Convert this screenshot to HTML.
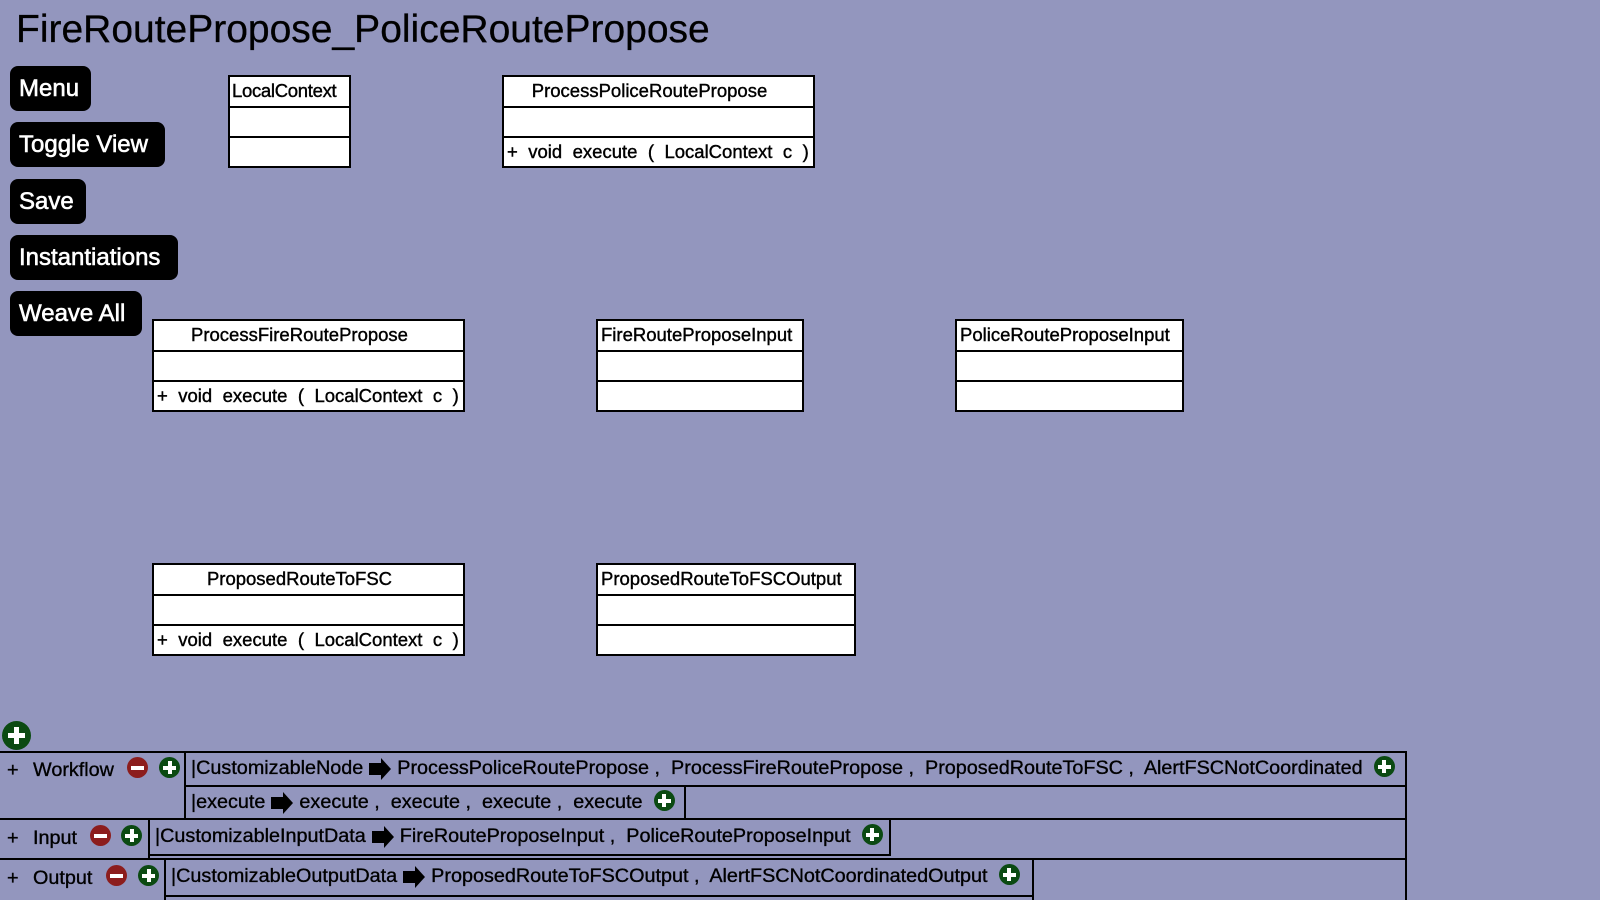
<!DOCTYPE html>
<html><head><meta charset="utf-8"><style>
*{box-sizing:border-box;margin:0;padding:0}
body{width:1600px;height:900px;background:#9396be;font-family:"Liberation Sans",Arial,sans-serif;position:relative;overflow:hidden;color:#000}
.t{position:absolute;left:16px;top:8px;font-size:39px;white-space:nowrap;-webkit-text-stroke:0.3px #000}
.b{position:absolute;left:10px;background:#000;color:#fff;border-radius:8px;font-size:24px;height:45px;line-height:45px;padding-left:9px;white-space:nowrap;-webkit-text-stroke:0.6px #fff}
.c{position:absolute;background:#fff;border:2px solid #000;font-size:18.5px;-webkit-text-stroke:0.4px #000}
.c div{height:30.5px;line-height:28px;white-space:nowrap;overflow:hidden;border-bottom:2px solid #000}
.c div:last-child{border-bottom:none}
.ctr{text-align:center}
.l{position:absolute;background:#000}
.tx{position:absolute;font-size:19.8px;white-space:nowrap;line-height:24px;-webkit-text-stroke:0.35px #000}
.p,.m{display:inline-block;width:21px;height:21px;border-radius:50%;position:relative;vertical-align:-3px;-webkit-text-stroke:0}
.p{background:#0b4a12}.m{background:#8c1d1d}
.p:before,.m:before{content:"";position:absolute;left:4px;top:8.5px;width:13px;height:4px;background:#fff}
.p:after{content:"";position:absolute;left:8.5px;top:4px;width:4px;height:13px;background:#fff}
.ab{position:absolute}
.ar{display:inline-block;position:relative;vertical-align:-1px;width:12px;height:12px;background:#000;margin:0 16px 0 6px}
.ar:after{content:"";position:absolute;left:12px;top:-5px;border-left:10px solid #000;border-top:11px solid transparent;border-bottom:11px solid transparent}
.big:before{left:6px!important;top:12px!important;width:17px!important;height:5px!important}.big:after{left:12px!important;top:6px!important;width:5px!important;height:17px!important}
.mt{word-spacing:5.3px}
</style></head><body>
<div class="t">FireRoutePropose_PoliceRoutePropose</div>
<div class="b" style="top:66px;width:81px">Menu</div>
<div class="b" style="top:122px;width:155px">Toggle View</div>
<div class="b" style="top:179px;width:76px">Save</div>
<div class="b" style="top:235px;width:168px">Instantiations</div>
<div class="b" style="top:291px;width:132px">Weave All</div>

<div class="c" style="left:228px;top:75px;width:123px;height:93px"><div style="padding-left:2px;letter-spacing:-0.3px">LocalContext</div><div></div><div></div></div>
<div class="c ctr" style="left:502px;top:75px;width:313px;height:93px"><div style="padding-right:18px">ProcessPoliceRoutePropose</div><div></div><div class="mt" style="text-align:left;padding-left:3px">+ void execute ( LocalContext c )</div></div>
<div class="c ctr" style="left:152px;top:319px;width:313px;height:93px"><div style="padding-right:18px">ProcessFireRoutePropose</div><div></div><div class="mt" style="text-align:left;padding-left:3px">+ void execute ( LocalContext c )</div></div>
<div class="c" style="left:596px;top:319px;width:208px;height:93px"><div style="padding-left:3px">FireRouteProposeInput</div><div></div><div></div></div>
<div class="c" style="left:955px;top:319px;width:229px;height:93px"><div style="padding-left:3px">PoliceRouteProposeInput</div><div></div><div></div></div>
<div class="c ctr" style="left:152px;top:563px;width:313px;height:93px"><div style="padding-right:18px">ProposedRouteToFSC</div><div></div><div class="mt" style="text-align:left;padding-left:3px">+ void execute ( LocalContext c )</div></div>
<div class="c" style="left:596px;top:563px;width:260px;height:93px"><div style="padding-left:3px">ProposedRouteToFSCOutput</div><div></div><div></div></div>

<span class="p big ab" style="left:2px;top:721px;width:29px;height:29px"></span>

<div class="l" style="left:0;top:751px;width:1407px;height:2px"></div>
<div class="l" style="left:185px;top:785px;width:1222px;height:2px"></div>
<div class="l" style="left:0;top:818px;width:1407px;height:2px"></div>
<div class="l" style="left:149px;top:854px;width:741px;height:2px"></div>
<div class="l" style="left:0;top:858px;width:1407px;height:2px"></div>
<div class="l" style="left:165px;top:895px;width:868px;height:2px"></div>
<div class="l" style="left:1405px;top:751px;width:2px;height:149px"></div>
<div class="l" style="left:184px;top:751px;width:2px;height:68px"></div>
<div class="l" style="left:684px;top:785px;width:2px;height:34px"></div>
<div class="l" style="left:148px;top:818px;width:2px;height:40px"></div>
<div class="l" style="left:889px;top:818px;width:2px;height:38px"></div>
<div class="l" style="left:164px;top:858px;width:2px;height:42px"></div>
<div class="l" style="left:1032px;top:858px;width:2px;height:42px"></div>

<div class="tx" style="left:7px;top:758px">+</div><div class="tx" style="left:33px;top:758px">Workflow</div>
<span class="m ab" style="left:127px;top:757px"></span><span class="p ab" style="left:159px;top:757px"></span>
<div class="tx" style="left:7px;top:826px">+</div><div class="tx" style="left:33px;top:826px">Input</div>
<span class="m ab" style="left:90px;top:825px"></span><span class="p ab" style="left:121px;top:825px"></span>
<div class="tx" style="left:7px;top:866px">+</div><div class="tx" style="left:33px;top:866px">Output</div>
<span class="m ab" style="left:106px;top:865px"></span><span class="p ab" style="left:138px;top:865px"></span>

<div class="tx" style="left:191px;top:756px">|CustomizableNode<span class="ar"></span>ProcessPoliceRoutePropose ,&nbsp; ProcessFireRoutePropose ,&nbsp; ProposedRouteToFSC ,&nbsp; AlertFSCNotCoordinated&nbsp; <span class="p"></span></div>
<div class="tx" style="left:191px;top:790px">|execute<span class="ar"></span>execute ,&nbsp; execute ,&nbsp; execute ,&nbsp; execute&nbsp; <span class="p"></span></div>
<div class="tx" style="left:155px;top:824px">|CustomizableInputData<span class="ar"></span>FireRouteProposeInput ,&nbsp; PoliceRouteProposeInput&nbsp; <span class="p"></span></div>
<div class="tx" style="left:171px;top:864px">|CustomizableOutputData<span class="ar"></span>ProposedRouteToFSCOutput ,&nbsp; AlertFSCNotCoordinatedOutput&nbsp; <span class="p"></span></div>
</body></html>
